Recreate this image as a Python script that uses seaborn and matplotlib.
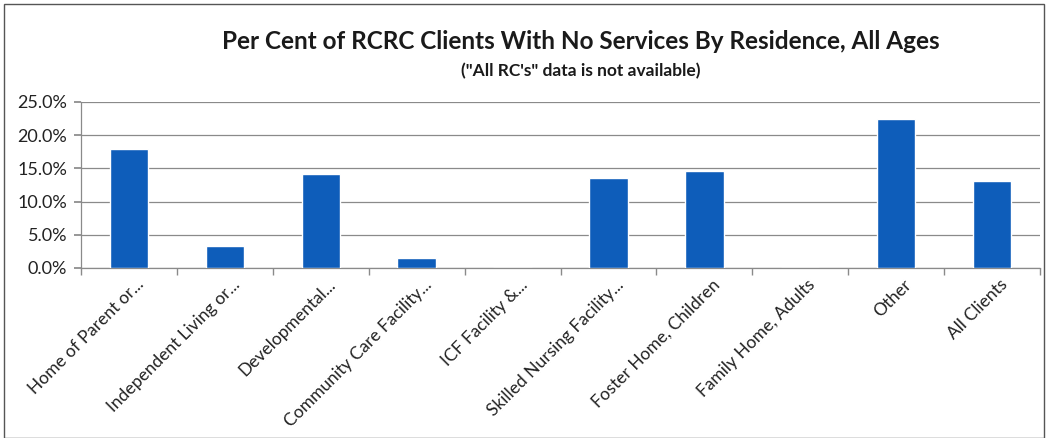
import matplotlib
matplotlib.use("Agg")
import matplotlib.pyplot as plt
import seaborn as sns
import pandas as pd
from matplotlib.patches import Rectangle
from matplotlib.ticker import FuncFormatter, FixedLocator
from matplotlib.transforms import ScaledTranslation

categories = [
    "Home of Parent or...",
    "Independent Living or...",
    "Developmental...",
    "Community Care Facility...",
    "ICF Facility &...",
    "Skilled Nursing Facility...",
    "Foster Home, Children",
    "Family Home, Adults",
    "Other",
    "All Clients",
]
values = [17.9, 3.3, 14.2, 1.5, 0.0, 13.5, 14.65, 0.0, 22.5, 13.1]
y_ticks = [0, 5, 10, 15, 20, 25]

title = "Per Cent of RCRC Clients With No Services By Residence, All Ages"
subtitle = "(\"All RC's\" data is not available)"

df = pd.DataFrame({"category": categories, "value": values})

sns.set_theme(style="white")
plt.rcParams["font.family"] = ["Lato", "DejaVu Sans"]

fig = plt.figure(figsize=(10.49, 4.38), dpi=100)
ax = fig.add_axes([81 / 1049, 1 - 268 / 438, (1040 - 81) / 1049, (268 - 102) / 438])

sns.barplot(data=df, x="category", y="value", color="#0E5DBA", width=0.4,
            saturation=1, ax=ax, zorder=3)

ax.set_ylim(0, 25)
ax.set_xlim(-0.5, len(categories) - 0.5)
ax.yaxis.set_major_locator(FixedLocator(y_ticks))
ax.yaxis.set_major_formatter(FuncFormatter(lambda v, p: f"{v:.1f}%"))
ax.grid(axis="y", color="#8a8a8a", linewidth=0.9, zorder=0)
ax.set_axisbelow(True)

for s in ["top", "right"]:
    ax.spines[s].set_visible(False)
for s in ["left", "bottom"]:
    ax.spines[s].set_color("#8a8a8a")
    ax.spines[s].set_linewidth(0.9)

ax.set_xlabel("")
ax.set_ylabel("")
ax.tick_params(axis="y", which="major", left=True, length=5, color="#8a8a8a",
               labelsize=13, labelcolor="#222222", pad=5)
ax.tick_params(axis="x", which="major", length=0, labelsize=12.5,
               labelcolor="#222222", pad=6)
ax.set_xticks(range(len(categories)))
ax.set_xticklabels(categories, rotation=45, ha="right", rotation_mode="anchor")
offset = ScaledTranslation(7 / 100, 0, fig.dpi_scale_trans)
for lbl in ax.get_xticklabels():
    lbl.set_transform(lbl.get_transform() + offset)
ax.set_xticks([i - 0.5 for i in range(len(categories) + 1)], minor=True)
ax.tick_params(axis="x", which="minor", bottom=True, length=5, color="#8a8a8a")

fig.text(0.554, 0.905, title, ha="center", va="center", fontsize=17.5,
         fontweight="bold", color="#1a1a1a")
fig.text(0.554, 0.838, subtitle, ha="center", va="center", fontsize=12.5,
         fontweight="bold", color="#1a1a1a")

fig.patches.append(Rectangle((4 / 1049, 0), 1040 / 1049, 1 - 4 / 438,
                             transform=fig.transFigure, fill=False,
                             edgecolor="#555555", linewidth=1.0))

fig.savefig("out.png", dpi=100)
